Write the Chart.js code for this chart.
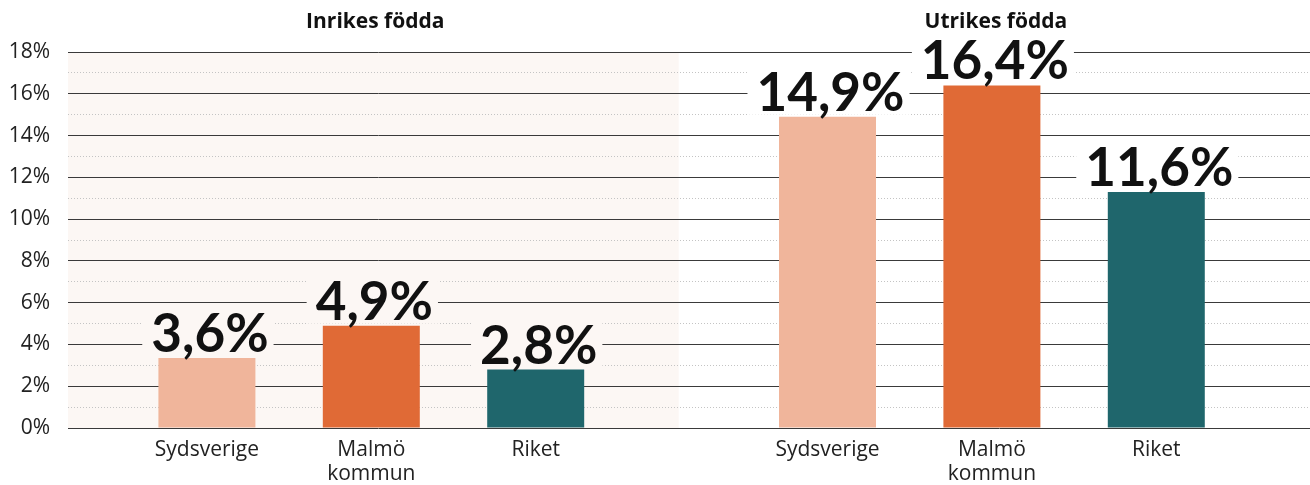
<!DOCTYPE html>
<html>
<head>
<meta charset="utf-8">
<script src="https://cdn.jsdelivr.net/npm/chart.js@4/dist/chart.umd.min.js"></script>
<style>
html,body{margin:0;padding:0;background:#fff;}
#wrap{width:1310px;height:485px;}
</style>
</head>
<body>
<div id="wrap"><canvas id="gp" width="1310" height="485"></canvas></div>
<script>
const ctx=document.getElementById("gp");

const groups=["Inrikes födda","Utrikes födda"];
const regions=[["Sydsverige"],["Malmö","kommun"],["Riket"]];
const inrikes=[3.35,4.9,2.8];   // bar heights as drawn
const utrikes=[14.9,16.4,11.3];
const inrikesText=["3,6%","4,9%","2,8%"]; // printed labels
const utrikesText=["14,9%","16,4%","11,6%"];
const yTicks=[0,2,4,6,8,10,12,14,16,18];
const colors=["#f0b59b","#e06a36","#1f666c"];

const GAP=1.775; // space between the two groups, in bar steps
const xs=[0,1,2,2+GAP,3+GAP,4+GAP];
const values=inrikes.concat(utrikes);
const texts=inrikesText.concat(utrikesText);
const tickLabels=regions.concat(regions);
const panelBg="#fcf7f4";

const panels={
    id:"panels",
    beforeDraw(chart){
        const c=chart.ctx, a=chart.chartArea, x=chart.scales.x;
        const edge=x.getPixelForValue(2+GAP*0.49);
        c.save();
        c.fillStyle=panelBg;
        c.fillRect(a.left,a.top,edge-a.left,a.bottom-a.top);
        c.fillStyle="#111";
        c.font="bold 21px 'Open Sans'";
        c.textAlign="center";
        c.textBaseline="middle";
        groups.forEach((g,i)=>c.fillText(g,x.getPixelForValue(xs[i*3+1])+4,22));
        c.restore();
    },
    afterDatasetsDraw(chart){
        const c=chart.ctx, x=chart.scales.x;
        const edge=x.getPixelForValue(2+GAP*0.49);
        c.save();
        c.font="bold 53px Lato";
        c.textAlign="center";
        c.textBaseline="alphabetic";
        chart.getDatasetMeta(0).data.forEach((bar,i)=>{
            const t=texts[i];
            const w=c.measureText(t).width;
            const base=bar.y-6;
            c.fillStyle=bar.x<edge?panelBg:"#fff";
            c.fillRect(bar.x-w/2-6,base-47,w+14,51);
            c.fillStyle="#111";
            c.fillText(t,bar.x+3,base);
        });
        c.restore();
    }
};

new Chart(ctx,{
    type:"bar",
    data:{
        datasets:[{
            data:values.map((v,i)=>({x:xs[i],y:v})),
            backgroundColor:colors.concat(colors),
            barPercentage:0.59,
            categoryPercentage:1,
        }]
    },
    options:{
        responsive:false,
        animation:false,
        layout:{padding:{top:52,right:0,bottom:0,left:0}},
        plugins:{legend:{display:false},tooltip:{enabled:false}},
        scales:{
            x:{
                type:"linear",
                offset:false,
                min:-0.845,
                max:6.71,
                grid:{display:false,offset:false},
                border:{display:false},
                afterBuildTicks:a=>{a.ticks=xs.map(v=>({value:v}));},
                afterFit:s=>{s.height=57;},
                ticks:{
                    autoSkip:false,
                    maxRotation:0,
                    padding:2,
                    color:"#222",
                    font:{family:"Open Sans",size:21,lineHeight:1.14},
                    callback:(v,i)=>tickLabels[i],
                }
            },
            y:{
                min:0,
                max:18,
                position:"left",
                afterBuildTicks:a=>{a.ticks=yTicks.map(v=>({value:v}));},
                afterFit:s=>{s.width=68;},
                grid:{color:"#3a3a3a",lineWidth:1,drawTicks:false},
                border:{display:false},
                ticks:{
                    padding:18,
                    color:"#222",
                    font:{family:"Open Sans",size:21},
                    callback:v=>v+"%",
                }
            },
            y2:{
                min:0,
                max:18,
                position:"left",
                grid:{
                    drawTicks:false,
                    lineWidth:1,
                    color:c=>c.tick.value%2?"#c4c4c4":"rgba(0,0,0,0)",
                },
                border:{display:false,dash:[1,2]},
                ticks:{display:false,stepSize:1},
            }
        }
    },
    plugins:[panels]
});
</script>
</body>
</html>
